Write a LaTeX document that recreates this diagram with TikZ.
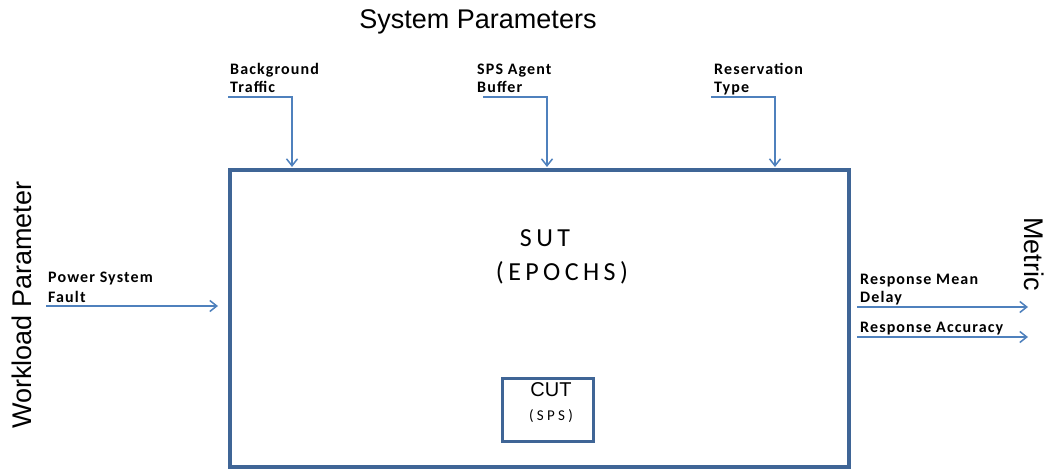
\documentclass[tikz,border=0pt]{standalone}
\usepackage{fontspec}
\setmainfont{Liberation Sans}
\newfontfamily\lblfont[LetterSpace=7]{Carlito}
\newfontfamily\sutfont[LetterSpace=17]{Carlito}
\newfontfamily\spsfont[LetterSpace=22]{Carlito}
\usetikzlibrary{arrows.meta}
\definecolor{boxblue}{HTML}{3F6596}
\definecolor{arrblue}{HTML}{4F81BD}
\begin{document}
\begin{tikzpicture}[x=1pt,y=-1pt,
  lbl/.style={font=\lblfont\bfseries\fontsize{16}{18}\selectfont, anchor=base west, inner sep=0pt},
  big/.style={font=\fontsize{27}{30}\selectfont, inner sep=0pt},
  arr/.style={draw=arrblue, line width=1.5pt, -{Straight Barb[length=7pt,width=11pt,line width=1.5pt]}},
  frame/.style={draw=boxblue, line width=3.5pt, inner sep=0pt}]
\useasboundingbox (0,0) rectangle (1046,470);
% main boxes
\node[frame, minimum width=619pt, minimum height=297pt] (sut) at (539.5,318.5) {};
\node[frame, line width=3pt, minimum width=91pt, minimum height=63pt] (cut) at (548,410) {};
% titles
\node[big, anchor=base] (sysp) at (478,29) {System Parameters};
\node[big, rotate=90, anchor=center] (wlp) at (22,305) {Workload Parameter};
\node[big, rotate=-90, anchor=center] (metric) at (1034,254) {Metric};
% inner texts
\node[font=\sutfont\fontsize{26}{28}\selectfont, anchor=base, inner sep=0pt] (sutt) at (545,247) {SUT};
\node[font=\sutfont\fontsize{26}{28}\selectfont, anchor=base, inner sep=0pt] (epochs) at (562,280) {(EPOCHS)};
\node[font=\fontsize{20}{22}\selectfont, anchor=base, inner sep=0pt] (cutt) at (551,396) {CUT};
\node[font=\spsfont\fontsize{15}{17}\selectfont, anchor=base, inner sep=0pt] (sps) at (551,420) {(SPS)};
% top labels
\node[lbl] (bg1) at (230,75) {Background};
\node[lbl] (bg2) at (230,93) {Traffic};
\node[lbl] (sa1) at (477,75) {SPS Agent};
\node[lbl] (sa2) at (477,93) {Buffer};
\node[lbl] (rt1) at (714,75) {Reservation};
\node[lbl] (rt2) at (714,93) {Type};
\coordinate (bgs) at (228,97);
\coordinate (bge) at (292,167);
\coordinate (sas) at (483,97);
\coordinate (sae) at (547,167);
\coordinate (rts) at (711,97);
\coordinate (rte) at (775,167);
\draw[arr] (bgs) -| (bge);
\draw[arr] (sas) -| (sae);
\draw[arr] (rts) -| (rte);
% left input
\node[lbl] (pf1) at (48,283) {Power System};
\node[lbl] (pf2) at (48,302) {Fault};
\coordinate (pfs) at (46,306);
\coordinate (pfe) at (218,306);
\draw[arr] (pfs) -- (pfe);
% right outputs
\node[lbl] (rm1) at (860,284) {Response Mean};
\node[lbl] (rm2) at (860,302) {Delay};
\node[lbl] (ra) at (860,332) {Response Accuracy};
\coordinate (rms) at (857,307);
\coordinate (rme) at (1028,307);
\coordinate (ras) at (857,337);
\coordinate (rae) at (1028,337);
\draw[arr] (rms) -- (rme);
\draw[arr] (ras) -- (rae);
\end{tikzpicture}
\end{document}
